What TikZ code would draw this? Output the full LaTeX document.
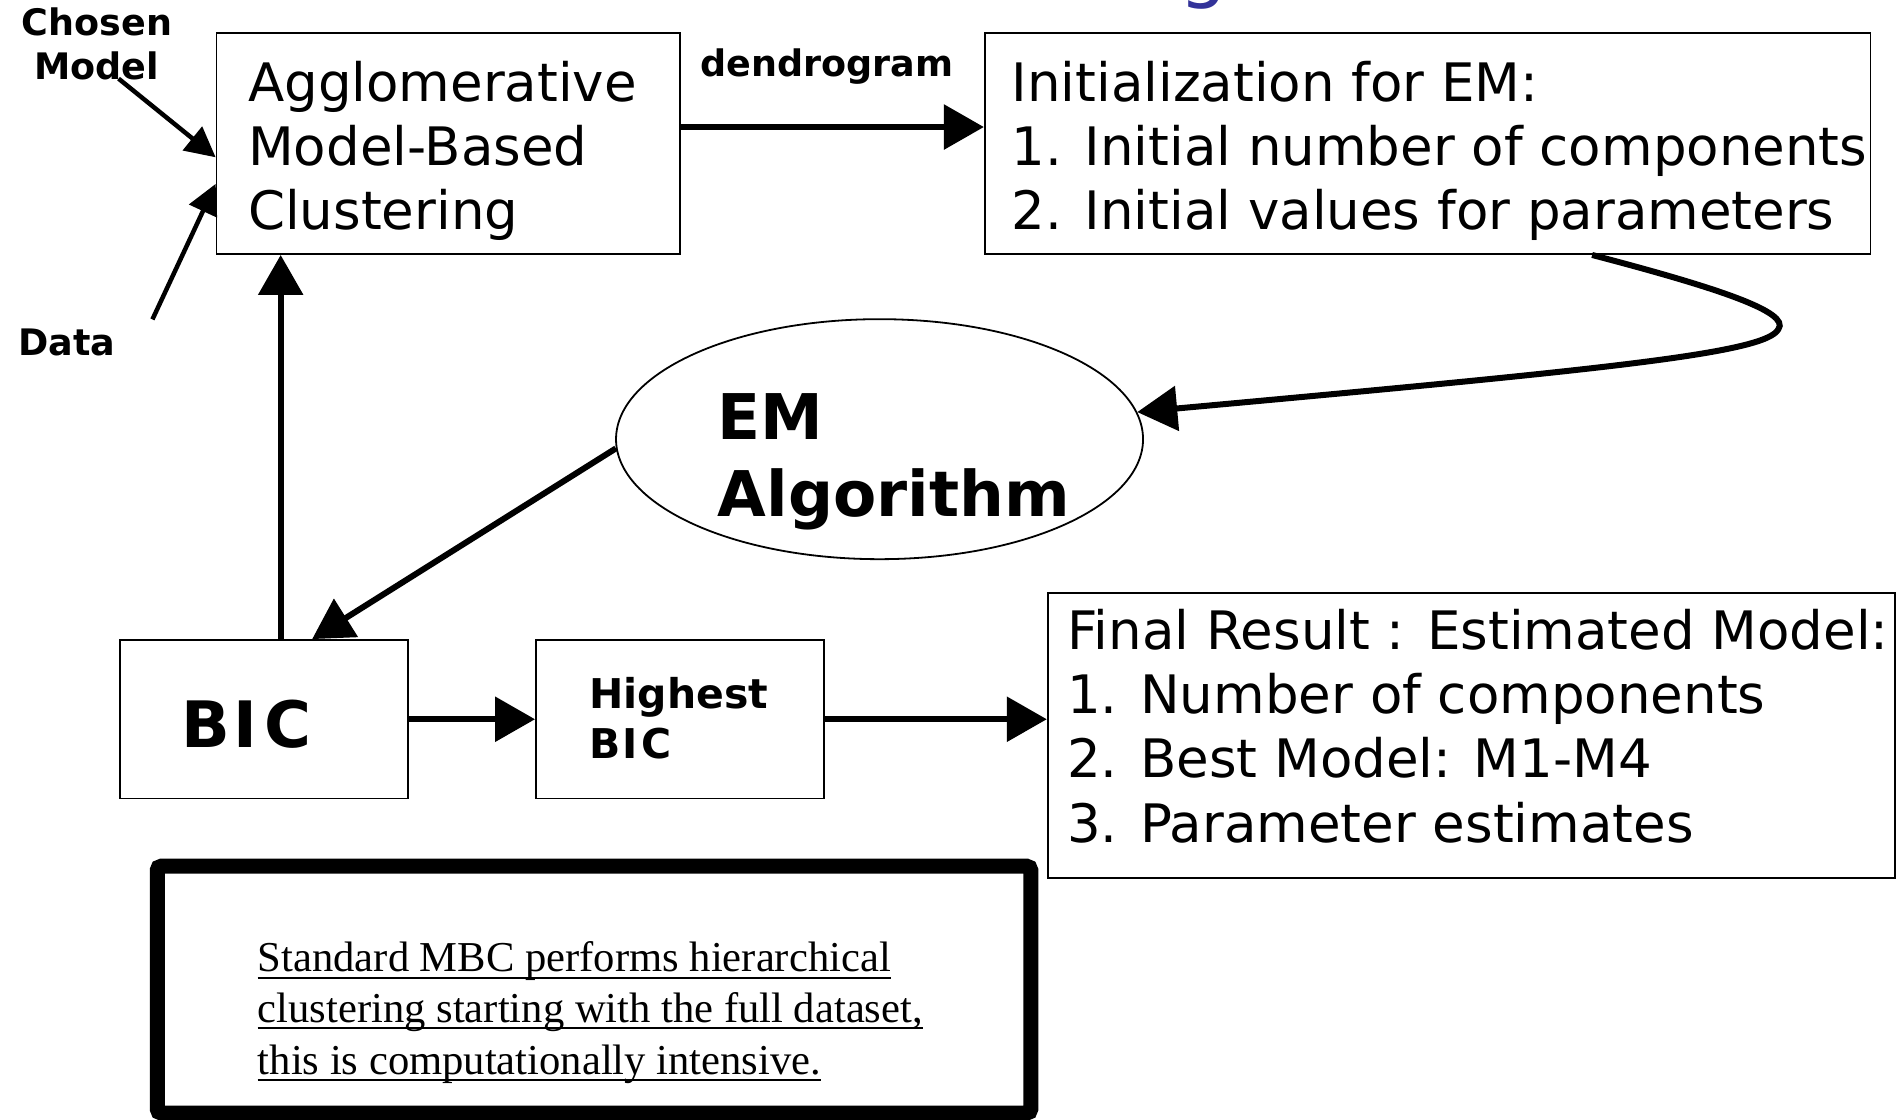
\documentclass[tikz,border=0pt]{standalone}
\usepackage{fontspec}
\setmainfont{DejaVu Sans}
\newfontfamily\tnr{Liberation Serif}
\usetikzlibrary{shapes.geometric,arrows.meta,calc,fit}
\definecolor{titleblue}{RGB}{51,51,153}
\begin{document}
\begin{tikzpicture}[x=1.2098pt,y=-1.2098pt,
  box/.style={draw, line width=1.8pt, inner sep=0pt},
  txt/.style={anchor=base west, inner sep=0pt, font=\fontsize{53}{64}\selectfont},
  lbl/.style={anchor=base west, inner sep=0pt, font=\bfseries\fontsize{36.5}{42}\selectfont},
  hbl/.style={anchor=base west, inner sep=0pt, font=\bfseries\fontsize{41}{48}\selectfont},
  embl/.style={anchor=base west, inner sep=0pt, font=\bfseries\fontsize{63}{76}\selectfont},
  note/.style={anchor=base west, inner sep=0pt, font=\tnr\fontsize{42.6}{51}\selectfont},
  flow/.style={line width=6pt, -{Triangle[length=40pt,width=44pt]}},
  feed/.style={line width=4.5pt, -{Triangle[length=30pt,width=30pt]}},
  uline/.style={line width=2pt}
]
\useasboundingbox (0,0) rectangle (1568,925);

% partial title glyph at the top edge
\begin{scope}
\clip (0,0) rectangle (1568,925);
\node[anchor=base west, inner sep=0pt, text=titleblue, font=\fontsize{76}{80}\selectfont] (ttl) at (975,-5) {g};
\end{scope}

% boxes
\node[box, fit={(179,27) (562,210)}] (aggl) {};
\node[box, fit={(814,27) (1546,210)}] (init) {};
\node[ellipse, draw, line width=1.8pt, minimum width=527pt, minimum height=240pt, inner sep=0pt] (em) at (727,363) {};
\node[box, fit={(99,529) (337,660)}] (bic) {};
\node[box, fit={(443,529) (681,660)}] (high) {};
\node[box, fit={(866,490) (1566,726)}] (final) {};
\node[draw, line width=15pt, rounded corners=4pt, inner sep=0pt, fit={(130,716) (852,920)}] (notebox) {};

% texts
\node[lbl] (chosen) at (18,29) {Chosen};
\node[lbl] (model) at (28,66) {Model};
\node[lbl] (data) at (15,294) {Data};
\node[lbl] (dendro) at (579,63) {dendrogram};

\node[txt] (a1) at (205,84) {Agglomerative};
\node[txt] (a2) at (205,137) {Model-Based};
\node[txt] (a3) at (205,190) {Clustering};

\node[txt] (i1) at (836,84) {Initialization for EM:};
\node[txt] (i2) at (836,137) {1. Initial number of components};
\node[txt] (i3) at (836,190) {2. Initial values for parameters};

\node[embl] (em1) at (593,363) {EM};
\node[embl] (em2) at (593,427) {Algorithm};

\node[anchor=base west, inner sep=0pt, font=\bfseries\fontsize{64}{76}\selectfont] (bict) at (150,618) {B\kern3pt I\kern7pt C};
\node[hbl] (h1) at (487,586) {Highest};
\node[hbl] (h2) at (487,627) {B\kern2pt I\kern4pt C};

\node[txt] (f1) at (882,537) {Final Result : Estimated Model:};
\node[txt] (f2) at (882,590) {1. Number of components};
\node[txt] (f3) at (882,643) {2. Best Model: M1-M4};
\node[txt] (f4) at (882,696) {3. Parameter estimates};

\node[note] (n1) at (213,803) {Standard MBC performs hierarchical};
\node[note] (n2) at (213,845) {clustering starting with the full dataset,};
\node[note] (n3) at (213,888) {this is computationally intensive.};
\foreach \n in {n1,n2,n3}
  \draw[uline] ([yshift=-6pt]\n.base west) -- ([yshift=-6pt]\n.base east);

% connectors
\coordinate (cmStart) at (98,65);
\coordinate (dStart) at (126,264);
\draw[feed] (cmStart) -- ($(aggl.west)+(0,11.5)$);
\draw[feed] (dStart) -- ($(aggl.west)+(0,33.5)$);
\draw[flow] ($(aggl.east)+(0,-13.5)$) -- ($(init.west)+(0,-13.5)$);
\draw[flow] ($(init.south)+(136,0)$) .. controls (1420,238) and (1480,258) .. (1470,272)
  .. controls (1460,292) and (1330,305) .. (em.6);
\draw[flow] (em.182) -- ($(bic.north)+(40,0)$);
\coordinate (bicUp) at ($(bic.north)+(14,0)$);
\draw[flow] (bicUp) -- (bicUp |- aggl.south);
\draw[flow] (bic.east) -- (high.west);
\draw[flow] (high.east) -- (high.east -| final.west);
\end{tikzpicture}
\end{document}
